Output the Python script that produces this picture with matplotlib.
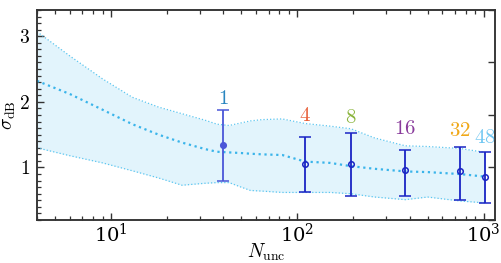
import matplotlib
matplotlib.use('Agg')
import matplotlib.pyplot as plt
from matplotlib.ticker import FuncFormatter, MultipleLocator, FixedLocator, LogLocator, NullFormatter
import numpy as np

# ── data ─────────────────────────────────────────────
band_x = [4, 6, 9, 13, 18, 24, 32, 37, 43, 50, 56, 65, 83, 110, 150, 194, 260, 380, 500, 747, 1020]
band_mean = [2.32, 2.12, 1.88, 1.66, 1.50, 1.38, 1.28, 1.24, 1.23, 1.22, 1.21, 1.20, 1.19, 1.09, 1.07, 1.02, 0.98, 0.94, 0.93, 0.90, 0.86]
band_upper = [3.07, 2.70, 2.35, 2.07, 1.92, 1.82, 1.72, 1.66, 1.64, 1.68, 1.71, 1.73, 1.74, 1.67, 1.63, 1.59, 1.45, 1.33, 1.32, 1.29, 1.23]
band_lower = [1.30, 1.18, 1.07, 0.95, 0.84, 0.73, 0.76, 0.77, 0.77, 0.70, 0.65, 0.64, 0.62, 0.62, 0.62, 0.60, 0.55, 0.51, 0.55, 0.49, 0.46]

pt_labels = ['1', '4', '8', '16', '32', '48']
pt_x = [40, 110, 194, 380, 747, 1020]
pt_y = [1.35, 1.05, 1.05, 0.965, 0.95, 0.86]
pt_lo = [0.80, 0.62, 0.56, 0.57, 0.51, 0.46]
pt_hi = [1.87, 1.47, 1.53, 1.26, 1.31, 1.23]
label_y = [2.05, 1.79, 1.76, 1.59, 1.56, 1.45]
label_colors = ['#2a86c0', '#e8603a', '#8ab43c', '#8a3c9c', '#f0a818', '#72c8f2']

plt.rcParams.update({
    'mathtext.fontset': 'cm',
    'font.family': 'serif',
    'font.serif': ['DejaVu Serif'],
    'axes.edgecolor': '#333333',
    'axes.linewidth': 1.1,
})

fig = plt.figure(figsize=(5.02, 2.63), dpi=100)
ax = fig.add_axes([0.0737, 0.1635, 0.9123, 0.7985])

band_col = '#5cc6f0'
ax.fill_between(band_x, band_lower, band_upper, color='#e2f4fc', lw=0, zorder=1)
ax.plot(band_x, band_upper, ':', color=band_col, lw=0.9, zorder=2)
ax.plot(band_x, band_lower, ':', color=band_col, lw=0.9, zorder=2)
ax.plot(band_x, band_mean, ':', color='#3ab4ea', lw=1.6, zorder=3)

for i in range(len(pt_x)):
    err = [[pt_y[i] - pt_lo[i]], [pt_hi[i] - pt_y[i]]]
    first = i == 0
    ax.errorbar([pt_x[i]], [pt_y[i]], yerr=err, fmt='o', ms=4,
                color='#4a56d8' if first else '#1a24c4',
                mfc='#4a56d8' if first else 'none', mew=1.1,
                elinewidth=1.3, capsize=4, capthick=1.3, zorder=5)
    ax.text(pt_x[i], label_y[i], '$%s$' % pt_labels[i], color=label_colors[i],
            ha='center', va='center', fontsize=15)

ax.set_xscale('log')
ax.set_xlim(4, 1150)
ax.set_ylim(0.2, 3.4)
ax.xaxis.set_major_locator(LogLocator(base=10))
ax.xaxis.set_minor_locator(LogLocator(base=10, subs=np.arange(2, 10)))
ax.xaxis.set_minor_formatter(NullFormatter())
ax.yaxis.set_major_locator(FixedLocator([1, 2, 3]))
ax.yaxis.set_minor_locator(MultipleLocator(0.1))
ax.yaxis.set_major_formatter(FuncFormatter(lambda v, p: '$%g$' % v))

ax.tick_params(which='both', direction='in', top=True, right=False, labelsize=14, color='#333333')
ax.tick_params(which='major', length=5, width=1.0)
ax.tick_params(which='minor', length=3, width=0.9)
ax.tick_params(axis='x', pad=2)
ax.tick_params(axis='y', pad=5)

ax2 = ax.twinx()
ax2.set_ylim(0.2, 3.4)
ax2.yaxis.set_major_locator(FixedLocator(np.arange(0.2, 3.5, 0.8)))
ax2.tick_params(direction='in', length=5, width=1.0, labelright=False, color='#333333')

ax.set_xlabel(r'$N_{\mathrm{unc}}$', fontsize=14, labelpad=-3)
ax.set_ylabel(r'$\sigma_{\mathrm{dB}}$', fontsize=14, labelpad=1)

fig.savefig('out.png', dpi=100)
